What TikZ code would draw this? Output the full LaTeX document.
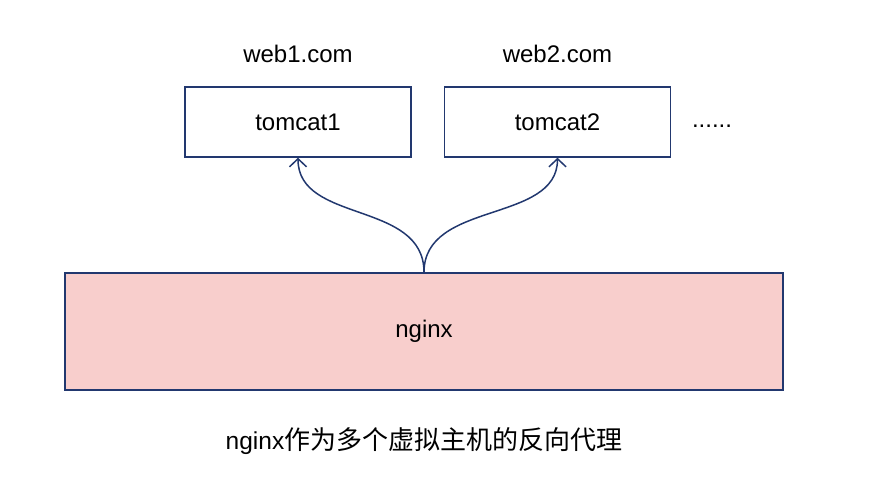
\documentclass[tikz,border=0pt]{standalone}
\usepackage{fontspec}
\setmainfont{Liberation Sans}
\newfontfamily\cjk{Noto Sans CJK SC}
\usetikzlibrary{arrows.meta, positioning}
\definecolor{rand}{HTML}{22386F}
\definecolor{rosa}{HTML}{F8CECC}

\begin{document}
\begin{tikzpicture}[x=1pt, y=-1pt,
        srv/.style={draw=rand, line width=1.5pt, minimum width=226pt,
                    minimum height=70pt, font=\fontsize{24}{28}\selectfont},
        site/.style={inner sep=0pt, font=\fontsize{24}{28}\selectfont},
        proxy/.style={draw=rand, fill=rosa, line width=1.5pt, minimum width=718pt,
                      minimum height=117pt, font=\fontsize{24}{28}\selectfont},
        arr/.style={-{Straight Barb[length=8pt, width=17pt, line width=1.5pt]},
                    line width=1.5pt, rand},
        node distance=32pt
      ]
      \useasboundingbox (0,0) rectangle (890,490);

      \node[srv] (tc1) at (298,122) {tomcat1};
      \node[srv, right=of tc1] (tc2) {tomcat2};
      \node[site, anchor=center] (dots) at (712,126) {......};

      \node[site, above=23pt of tc1] (web1) {web1.com};
      \node[site, above=23pt of tc2] (web2) {web2.com};

      \node[proxy] (nginx) at (424,331.5) {nginx};

      % Verzweigung nach oben
      \draw[arr] (nginx.north) .. controls ++(0,-72) and ++(0,66) .. (tc1.south);
      \draw[arr] (nginx.north) .. controls ++(0,-72) and ++(0,66) .. (tc2.south);

      \node[anchor=center] (caption) at (424,441)
        {\fontsize{24.5}{30}\selectfont nginx{\cjk\fontsize{26}{30}\selectfont 作为多个虚拟主机的反向代理}};
    \end{tikzpicture}
\end{document}
